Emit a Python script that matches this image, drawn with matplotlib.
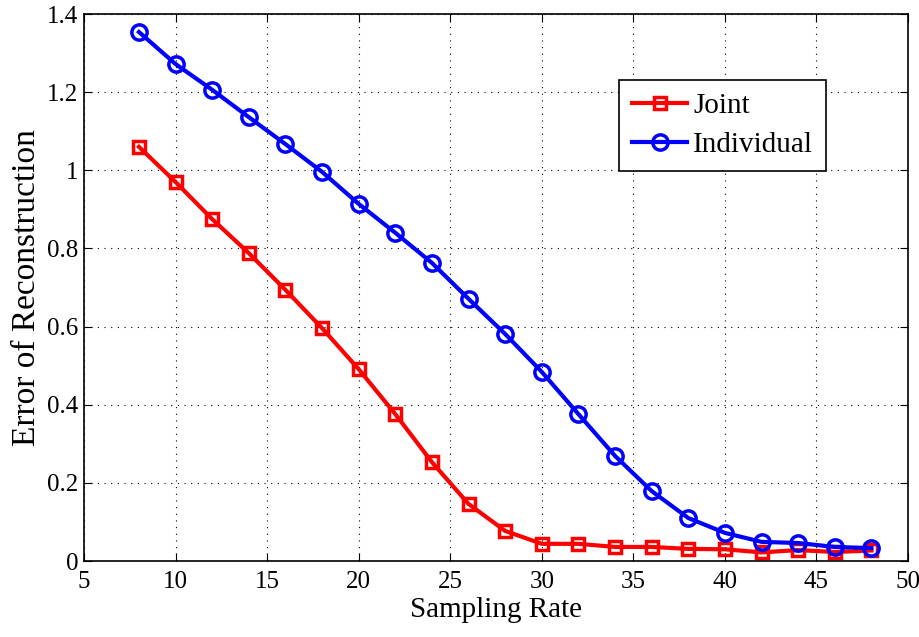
import matplotlib
matplotlib.use("Agg")
import matplotlib.pyplot as plt

sampling_rate = [8, 10, 12, 14, 16, 18, 20, 22, 24, 26, 28, 30, 32, 34, 36, 38, 40, 42, 44, 46, 48]
joint_err = [1.060, 0.970, 0.875, 0.788, 0.694, 0.596, 0.491, 0.376, 0.253, 0.146, 0.077,
             0.044, 0.044, 0.036, 0.036, 0.031, 0.030, 0.022, 0.028, 0.023, 0.027]
indiv_err = [1.354, 1.272, 1.206, 1.136, 1.067, 0.996, 0.914, 0.840, 0.763, 0.671, 0.581,
             0.484, 0.376, 0.269, 0.179, 0.110, 0.072, 0.049, 0.046, 0.036, 0.033]

plt.rcParams["font.family"] = ["Liberation Serif", "DejaVu Serif"]

fig = plt.figure(figsize=(9.2, 6.37), dpi=100)
ax = fig.add_axes([0.0913, 0.1193, 0.8957, 0.8587])

ax.plot(sampling_rate, joint_err, color="#ff0000", linewidth=3, marker="s",
        markersize=9, markerfacecolor="none", markeredgewidth=2.5, label="Joint")
ax.plot(sampling_rate, indiv_err, color="#0000ff", linewidth=3, marker="o",
        markersize=11, markerfacecolor="none", markeredgewidth=2.5, label="Individual")

ax.set_xlim(5, 50)
ax.set_ylim(0, 1.4)
ax.set_xticks(range(5, 51, 5))
ax.set_yticks([0, 0.2, 0.4, 0.6, 0.8, 1.0, 1.2, 1.4])
ax.set_yticklabels(["0", "0.2", "0.4", "0.6", "0.8", "1", "1.2", "1.4"])
ax.tick_params(direction="in", top=True, right=True, labelsize=18, length=6)
ax.tick_params(axis="x", pad=7)
ax.tick_params(axis="y", pad=4)
ax.grid(True, color="black", linestyle=(0, (1, 5)), linewidth=0.8)
for s in ax.spines.values():
    s.set_linewidth(1.2)

ax.set_xlabel("Sampling Rate", fontsize=21, labelpad=3)
ax.set_ylabel("Error of Reconstruction", fontsize=24, labelpad=4)

leg = ax.legend(loc="upper left", bbox_to_anchor=(0.649, 0.88), fontsize=21,
                fancybox=False, edgecolor="black", framealpha=1,
                handlelength=1.9, borderpad=0.45, labelspacing=0.42, handletextpad=0.2,
                borderaxespad=0)
leg.get_frame().set_linewidth(1.2)

fig.savefig("out.png", dpi=100)
